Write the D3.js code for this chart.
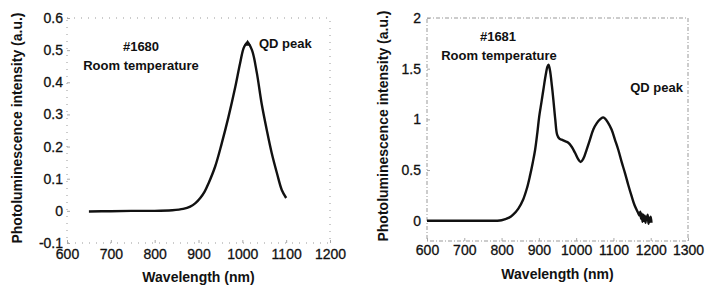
<!DOCTYPE html>
<meta charset="utf-8">
<script src="https://d3js.org/d3.v7.min.js"></script>
<style>
  body { margin: 0; background: #fff; }
  text { font-family: "Liberation Sans", Arial, sans-serif; fill: #111; }
</style>
<div id="chart"></div>
<script>
// sample #1680
var leftWl = [650, 700, 750, 800, 840, 865, 881, 893, 904, 914, 923, 938, 953, 968, 984, 995, 1004, 1012, 1022, 1033, 1044, 1056, 1067, 1079, 1090, 1100];
var leftPL = [-0.002, -0.001, 0, 0, 0.002, 0.006, 0.013, 0.024, 0.04, 0.06, 0.086, 0.138, 0.21, 0.29, 0.386, 0.46, 0.51, 0.523, 0.5, 0.43, 0.334, 0.25, 0.18, 0.117, 0.065, 0.04];

// sample #1681 (noisy tail included)
var rightWl = [600, 650, 700, 750, 800, 820, 831, 845, 858, 868, 876, 884, 890, 896, 901, 907, 912, 918, 923, 926, 930, 935, 939, 944, 949, 955, 961, 970, 979, 988, 997, 1005, 1012, 1019, 1028, 1037, 1046, 1055, 1064, 1072, 1077, 1085, 1095, 1104, 1113, 1122, 1131, 1140, 1149, 1157, 1166, 1170, 1172, 1174, 1176, 1178, 1180, 1182, 1184, 1186, 1188, 1190, 1192, 1194, 1196, 1198, 1200, 1202];
var rightPL = [0, 0, 0, 0, 0.005, 0.03, 0.06, 0.12, 0.21, 0.32, 0.44, 0.58, 0.70, 0.87, 1.03, 1.17, 1.29, 1.43, 1.52, 1.54, 1.48, 1.33, 1.19, 1.0, 0.85, 0.81, 0.80, 0.785, 0.77, 0.73, 0.67, 0.61, 0.58, 0.61, 0.70, 0.80, 0.90, 0.96, 1.00, 1.02, 1.01, 0.97, 0.90, 0.80, 0.70, 0.58, 0.47, 0.35, 0.24, 0.15, 0.08, 0.05, 0.09, 0.02, 0.07, -0.01, 0.06, 0.0, 0.05, -0.02, 0.04, 0.01, 0.06, -0.03, 0.03, -0.01, 0.04, -0.02];

var leftXTicks = [600, 700, 800, 900, 1000, 1100, 1200];
var leftYTicks = [-0.1, 0, 0.1, 0.2, 0.3, 0.4, 0.5, 0.6];
var rightXTicks = [600, 700, 800, 900, 1000, 1100, 1200, 1300];
var rightYTicks = [0, 0.5, 1, 1.5, 2];

var svg = d3.select("#chart")
  .append("svg")
    .attr("width", 705)
    .attr("height", 286);

var fmt = function(d) { return d === 0 ? "0" : String(d); };

function panel(o) {
  var x = d3.scaleLinear().domain(o.xDomain).range(o.xRange);
  var y = d3.scaleLinear().domain(o.yDomain).range(o.yRange);
  var g = svg.append("g");

  // faint dotted frame, like the scanned original
  var x0 = o.xRange[0], x1 = o.xRange[1], y0 = o.yRange[0], y1 = o.yRange[1];
  g.append("rect")
    .attr("x", x0).attr("y", y1)
    .attr("width", x1 - x0).attr("height", y0 - y1)
    .attr("fill", "none")
    .attr("stroke", "#999")
    .attr("stroke-width", 1)
    .attr("stroke-dasharray", o.dash);

  // x axis
  var xa = g.append("g")
    .attr("transform", "translate(0," + y0 + ")")
    .call(d3.axisBottom(x).tickValues(o.xTicks).tickFormat(d3.format("d")).tickSize(-3).tickPadding(o.xPad));
  xa.select(".domain").remove();
  xa.selectAll("line").attr("stroke", "#aaa");
  xa.selectAll("text").style("font-size", "14px").attr("fill", "#111")
    .attr("stroke", "#111").attr("stroke-width", 0.3);

  // y axis
  var ya = g.append("g")
    .attr("transform", "translate(" + x0 + ",0)")
    .call(d3.axisLeft(y).tickValues(o.yTicks).tickFormat(fmt).tickSize(-3).tickPadding(o.yPad));
  ya.select(".domain").remove();
  ya.selectAll("line").attr("stroke", "#aaa");
  ya.selectAll("text").style("font-size", "14px").attr("fill", "#111")
    .attr("stroke", "#111").attr("stroke-width", 0.3);

  // spectrum
  var pts = o.wl.map(function(d, i) { return [d, o.pl[i]]; });
  g.append("path")
    .datum(pts)
    .attr("fill", "none")
    .attr("stroke", "#111")
    .attr("stroke-width", 2.4)
    .attr("stroke-linejoin", "round")
    .attr("d", d3.line()
      .x(function(d) { return x(d[0]); })
      .y(function(d) { return y(d[1]); })
      .curve(d3.curveCatmullRom.alpha(0.5)));

  // axis titles
  g.append("text")
    .attr("x", (x0 + x1) / 2 + o.xTitleDx)
    .attr("y", o.xTitleY)
    .attr("text-anchor", "middle")
    .style("font-size", "14px")
    .style("font-weight", "bold")
    .text("Wavelength (nm)");
  g.append("text")
    .attr("transform", "translate(" + o.yTitleX + "," + o.yTitleY + ") rotate(-90)")
    .attr("text-anchor", "middle")
    .style("font-size", "14px")
    .style("font-weight", "bold")
    .text("Photoluminescence  intensity (a.u.)");

  // annotations
  o.notes.forEach(function(n) {
    g.append("text")
      .attr("x", n.x).attr("y", n.y)
      .attr("text-anchor", n.anchor || "middle")
      .style("font-size", "13px")
      .style("font-weight", "bold")
      .text(n.t);
  });
  return {x: x, y: y, g: g};
}

var left = panel({
  wl: leftWl, pl: leftPL,
  xDomain: [600, 1200], xRange: [67, 330],
  yDomain: [-0.1, 0.6], yRange: [243, 18],
  xTicks: leftXTicks, yTicks: leftYTicks,
  xPad: 6, yPad: 4, dash: "1,6",
  xTitleDx: 0, xTitleY: 282,
  yTitleX: 22, yTitleY: 128,
  notes: [
    {t: "#1680", x: 141, y: 51},
    {t: "Room temperature", x: 141, y: 70},
    {t: "QD peak", x: 259, y: 48, anchor: "start"}
  ]
});

// small marker at the QD peak
left.g.append("path")
  .attr("d", d3.symbol().type(d3.symbolTriangle).size(22))
  .attr("transform", "translate(" + left.x(1012) + "," + (left.y(0.523) + 1) + ")")
  .attr("fill", "#111");

var right = panel({
  wl: rightWl, pl: rightPL,
  xDomain: [600, 1300], xRange: [427, 688],
  yDomain: [-0.2, 2], yRange: [241, 18],
  xTicks: rightXTicks, yTicks: rightYTicks,
  xPad: 4, yPad: 6, dash: "4,2,1,2",
  xTitleDx: 0, xTitleY: 279,
  yTitleX: 388, yTitleY: 126,
  notes: [
    {t: "#1681", x: 498, y: 41},
    {t: "Room temperature", x: 499, y: 60},
    {t: "QD peak", x: 683, y: 92, anchor: "end"}
  ]
});
</script>
